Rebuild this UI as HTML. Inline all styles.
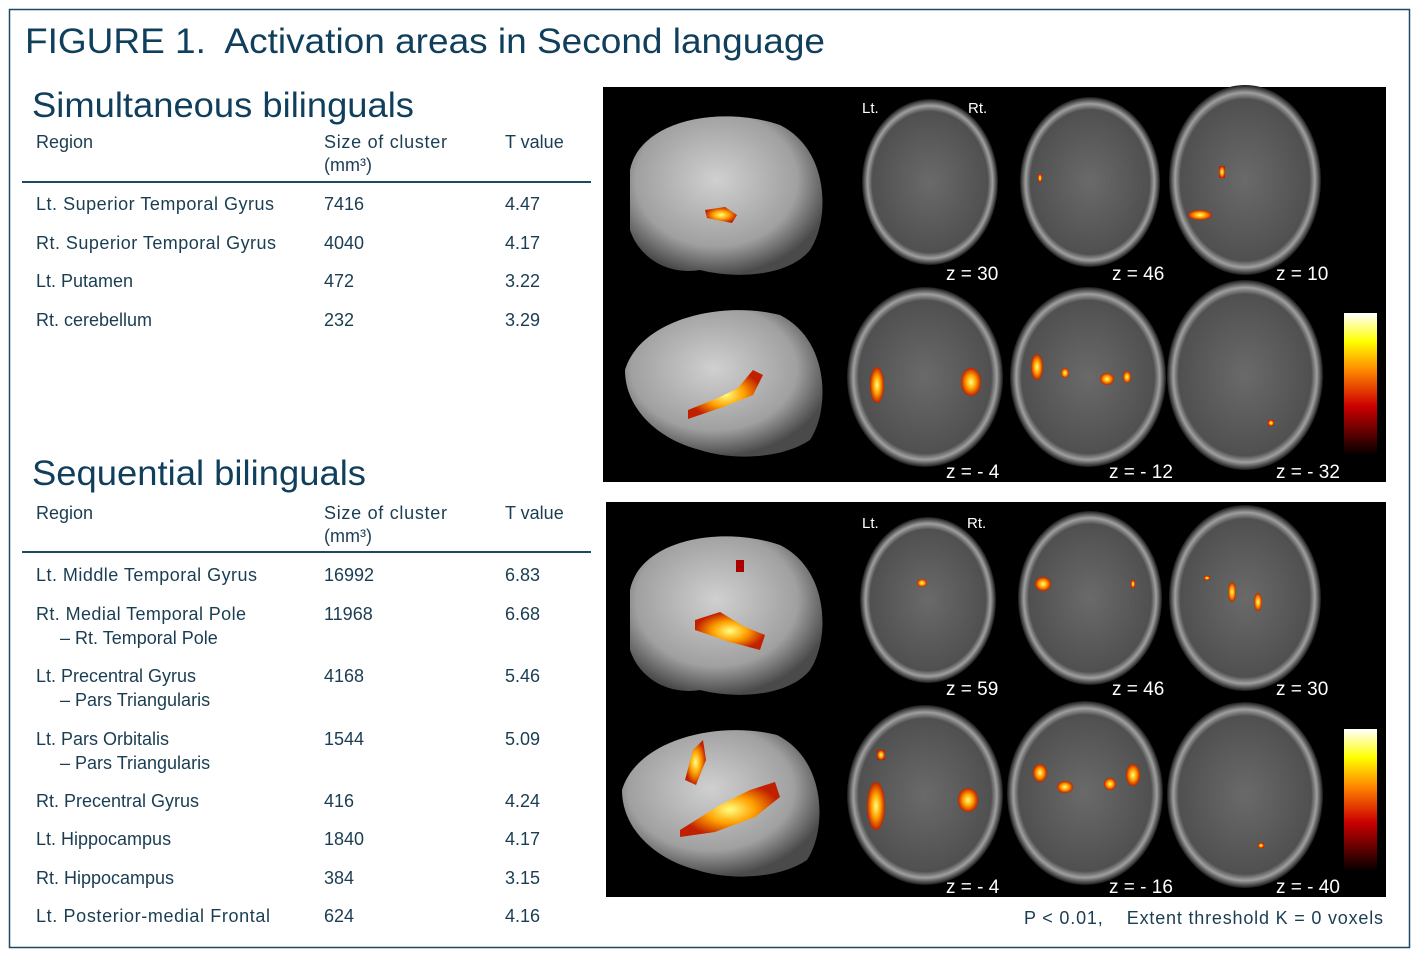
<!DOCTYPE html>
<html><head><meta charset="utf-8"><style>
html,body{margin:0;padding:0;background:#fff;}
svg{display:block;}
text{font-family:"Liberation Sans","Noto Sans CJK JP",sans-serif;white-space:pre;}
</style></head><body>
<svg width="1423" height="957" viewBox="0 0 1423 957" xmlns="http://www.w3.org/2000/svg" xml:space="preserve">
<defs>
<radialGradient id="sl" cx="50%" cy="50%" r="50%"><stop offset="0" stop-color="#6a6a6a"/><stop offset="0.85" stop-color="#505050"/><stop offset="0.92" stop-color="#a0a0a0"/><stop offset="1" stop-color="#1a1a1a"/></radialGradient>
<radialGradient id="br" cx="45%" cy="40%" r="60%"><stop offset="0" stop-color="#d0d0d0"/><stop offset="0.7" stop-color="#a0a0a0"/><stop offset="1" stop-color="#4a4a4a"/></radialGradient>
<linearGradient id="cb" x1="0" y1="1" x2="0" y2="0"><stop offset="0" stop-color="#000"/><stop offset="0.35" stop-color="#c00"/><stop offset="0.6" stop-color="#f80"/><stop offset="0.8" stop-color="#ff0"/><stop offset="1" stop-color="#fff"/></linearGradient>
<radialGradient id="bl" cx="50%" cy="50%" r="50%"><stop offset="0" stop-color="#ffff80"/><stop offset="0.5" stop-color="#ffa000"/><stop offset="1" stop-color="#c02000"/></radialGradient>
</defs>
<rect x="9.5" y="9.5" width="1400" height="938" fill="#fff" stroke="#1d4a63" stroke-width="1.5"/>
<g fill="#0f3f5c">
<text x="25" y="53" font-size="35" textLength="800" lengthAdjust="spacingAndGlyphs">FIGURE 1.  Activation areas in Second language</text>
<text x="32" y="117" font-size="35" textLength="382" lengthAdjust="spacingAndGlyphs">Simultaneous bilinguals</text>
<text x="32" y="485" font-size="35" textLength="334" lengthAdjust="spacingAndGlyphs">Sequential bilinguals</text>
</g>
<g fill="#1a3d52" font-size="18">
<text x="36" y="148">Region</text><text x="324" y="148" textLength="123">Size of cluster</text><text x="505" y="148">T value</text><text x="324" y="171">(mm³)</text>
<text x="36" y="210" textLength="238">Lt. Superior Temporal Gyrus</text><text x="324" y="210">7416</text><text x="505" y="210">4.47</text>
<text x="36" y="249" textLength="240">Rt. Superior Temporal Gyrus</text><text x="324" y="249">4040</text><text x="505" y="249">4.17</text>
<text x="36" y="287">Lt. Putamen</text><text x="324" y="287">472</text><text x="505" y="287">3.22</text>
<text x="36" y="326">Rt. cerebellum</text><text x="324" y="326">232</text><text x="505" y="326">3.29</text>

<text x="36" y="519">Region</text><text x="324" y="519" textLength="123">Size of cluster</text><text x="505" y="519">T value</text><text x="324" y="542">(mm³)</text>
<text x="36" y="581" textLength="221">Lt. Middle Temporal Gyrus</text><text x="324" y="581">16992</text><text x="505" y="581">6.83</text>
<text x="36" y="620" textLength="210">Rt. Medial Temporal Pole</text><text x="324" y="620">11968</text><text x="505" y="620">6.68</text>
<text x="60" y="644">– Rt. Temporal Pole</text>
<text x="36" y="682">Lt. Precentral Gyrus</text><text x="324" y="682">4168</text><text x="505" y="682">5.46</text>
<text x="60" y="706">– Pars Triangularis</text>
<text x="36" y="745">Lt. Pars Orbitalis</text><text x="324" y="745">1544</text><text x="505" y="745">5.09</text>
<text x="60" y="769">– Pars Triangularis</text>
<text x="36" y="807">Rt. Precentral Gyrus</text><text x="324" y="807">416</text><text x="505" y="807">4.24</text>
<text x="36" y="845">Lt. Hippocampus</text><text x="324" y="845">1840</text><text x="505" y="845">4.17</text>
<text x="36" y="884">Rt. Hippocampus</text><text x="324" y="884">384</text><text x="505" y="884">3.15</text>
<text x="36" y="922" textLength="234">Lt. Posterior-medial Frontal</text><text x="324" y="922">624</text><text x="505" y="922">4.16</text>
<text x="1024" y="924" textLength="359">P &lt; 0.01,    Extent threshold K = 0 voxels</text>
</g>
<rect x="22" y="181" width="569" height="2" fill="#1d4a63"/>
<rect x="22" y="551" width="569" height="2" fill="#1d4a63"/>

<!-- panel 1 -->
<rect x="603" y="87" width="783" height="395" fill="#000"/>
<path d="M630,170 C640,120 720,105 780,125 C830,150 830,220 810,250 C790,275 740,280 700,270 C670,275 640,260 630,230 Z" fill="url(#br)"/>
<path d="M625,370 C640,320 720,300 780,315 C830,340 830,410 810,440 C780,460 730,460 700,450 C660,440 625,410 625,370 Z" fill="url(#br)"/>
<path d="M705,210 l20,-3 12,8 -5,8 -25,-5z" fill="url(#bl)"/>
<path d="M688,410 l30,-12 20,-10 15,-18 10,5 -10,20 -30,12 -35,12z" fill="url(#bl)"/>
<g fill="url(#sl)">
<ellipse cx="930" cy="182" rx="68" ry="83"/>
<ellipse cx="1090" cy="182" rx="70" ry="85"/>
<ellipse cx="1245" cy="180" rx="76" ry="95"/>
<ellipse cx="925" cy="377" rx="78" ry="90"/>
<ellipse cx="1088" cy="377" rx="78" ry="90"/>
<ellipse cx="1245" cy="375" rx="78" ry="95"/>
</g>
<g fill="url(#bl)">
<rect x="1038" y="174" width="4" height="8"/><rect x="1219" y="166" width="6" height="12"/><ellipse cx="1200" cy="215" rx="12" ry="5"/>
<ellipse cx="877" cy="385" rx="7" ry="18"/><ellipse cx="971" cy="382" rx="10" ry="14"/>
<ellipse cx="1037" cy="367" rx="6" ry="13"/><ellipse cx="1107" cy="379" rx="7" ry="6"/><ellipse cx="1065" cy="373" rx="4" ry="5"/><ellipse cx="1127" cy="377" rx="4" ry="6"/>
<rect x="1268" y="420" width="6" height="6"/>
</g>
<rect x="1344" y="313" width="33" height="143" fill="url(#cb)"/>
<g fill="#fff" font-size="19">
<text x="862" y="113" font-size="15">Lt.</text><text x="968" y="113" font-size="15">Rt.</text>
<text x="946" y="280">z = 30</text><text x="1112" y="280">z = 46</text><text x="1276" y="280">z = 10</text>
<text x="946" y="478">z = - 4</text><text x="1109" y="478">z = - 12</text><text x="1276" y="478">z = - 32</text>
</g>

<!-- panel 2 -->
<rect x="606" y="502" width="780" height="395" fill="#000"/>
<path d="M630,590 C640,540 720,525 780,545 C830,570 830,640 810,670 C790,695 740,700 700,690 C670,695 640,680 630,650 Z" fill="url(#br)"/>
<path d="M622,790 C637,740 717,720 777,735 C827,760 827,830 807,860 C777,880 727,880 697,870 C657,860 622,830 622,790 Z" fill="url(#br)"/>
<path d="M695,620 l25,-8 25,15 20,8 -5,15 -30,-8 -35,-12z" fill="url(#bl)"/>
<rect x="736" y="560" width="8" height="12" fill="#a00"/>
<path d="M680,830 l40,-25 30,-15 25,-8 5,15 -25,20 -40,15 -35,5z" fill="url(#bl)"/>
<path d="M685,780 l8,-30 10,-10 3,20 -10,25z" fill="url(#bl)"/>
<g fill="url(#sl)">
<ellipse cx="928" cy="600" rx="68" ry="83"/>
<ellipse cx="1090" cy="598" rx="72" ry="87"/>
<ellipse cx="1245" cy="598" rx="76" ry="93"/>
<ellipse cx="925" cy="795" rx="78" ry="90"/>
<ellipse cx="1085" cy="793" rx="78" ry="92"/>
<ellipse cx="1245" cy="795" rx="78" ry="93"/>
</g>
<g fill="url(#bl)">
<ellipse cx="922" cy="583" rx="5" ry="4"/><ellipse cx="1043" cy="584" rx="8" ry="7"/><rect x="1131" y="580" width="4" height="8"/>
<ellipse cx="1232" cy="592" rx="4" ry="10"/><ellipse cx="1258" cy="602" rx="4" ry="9"/><rect x="1204" y="576" width="6" height="4"/>
<ellipse cx="876" cy="806" rx="9" ry="24"/><ellipse cx="968" cy="800" rx="10" ry="12"/><rect x="877" y="750" width="8" height="10"/>
<ellipse cx="1040" cy="773" rx="7" ry="9"/><ellipse cx="1133" cy="775" rx="7" ry="11"/><ellipse cx="1065" cy="787" rx="8" ry="6"/><ellipse cx="1110" cy="784" rx="6" ry="6"/>
<rect x="1258" y="843" width="6" height="5"/>
</g>
<rect x="1344" y="729" width="33" height="143" fill="url(#cb)"/>
<g fill="#fff" font-size="19">
<text x="862" y="528" font-size="15">Lt.</text><text x="967" y="528" font-size="15">Rt.</text>
<text x="946" y="695">z = 59</text><text x="1112" y="695">z = 46</text><text x="1276" y="695">z = 30</text>
<text x="946" y="893">z = - 4</text><text x="1109" y="893">z = - 16</text><text x="1276" y="893">z = - 40</text>
</g>
</svg>
</body></html>
